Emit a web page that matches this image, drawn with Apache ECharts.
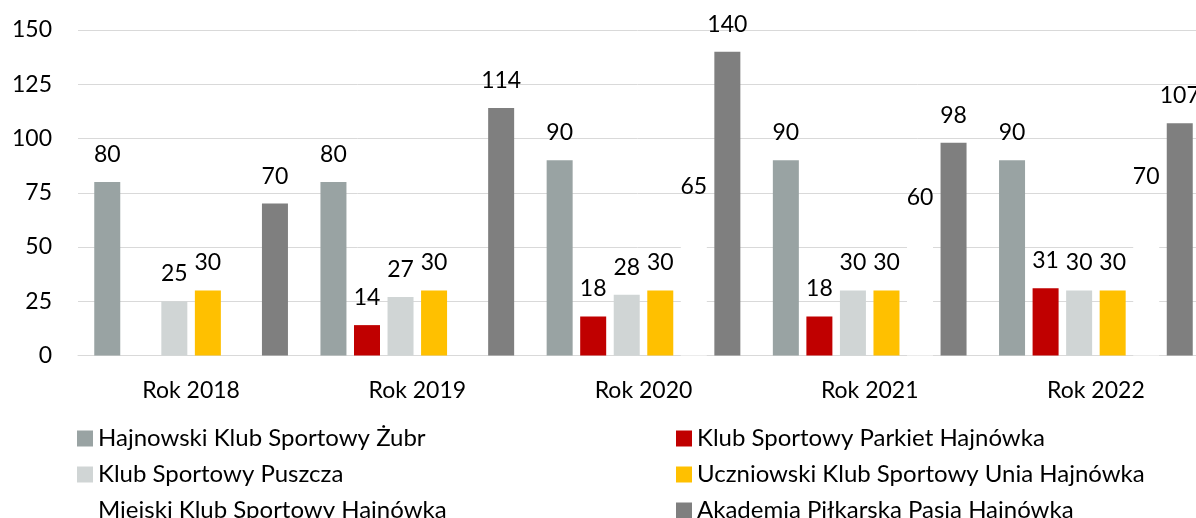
<!DOCTYPE html>
<html>
<head>
<meta charset="utf-8">
<script src="https://cdn.jsdelivr.net/npm/echarts@6/dist/echarts.min.js"></script>
<style>
  html, body { margin: 0; padding: 0; background: #fff; }
  #chart { width: 1196px; height: 518px; }
</style>
</head>
<body>
<div id="chart"></div>
<script>
// kategorie (lata)
const years = ['Rok 2018', 'Rok 2019', 'Rok 2020', 'Rok 2021', 'Rok 2022'];

// nazwy klubów
const clubNames = [
  'Hajnowski Klub Sportowy Żubr',
  'Klub Sportowy Parkiet Hajnówka',
  'Klub Sportowy Puszcza',
  'Uczniowski Klub Sportowy Unia Hajnówka',
  'Miejski Klub Sportowy Hajnówka',
  'Akademia Piłkarska Pasja Hajnówka'
];

// wartości dla każdego klubu
const zubr = [80, 80, 90, 90, 90];
const parkiet = [null, 14, 18, 18, 31];
const puszcza = [25, 27, 28, 30, 30];
const unia = [30, 30, 30, 30, 30];
const miejski = [null, null, 65, 60, 70];
const pasja = [70, 114, 140, 98, 107];

const yTicks = { min: 0, max: 150, interval: 25 };

const clubValues = [zubr, parkiet, puszcza, unia, miejski, pasja];
const clubColors = ['#99A3A3', '#C00000', '#D0D5D5', '#FFC000', '#FFFFFF', '#7F7F7F'];

const FONT = 'Lato';

const chart = echarts.init(document.getElementById('chart'));

const series = clubNames.map((name, i) => ({
  name: name,
  type: 'bar',
  data: clubValues[i],
  barWidth: 26,
  barGap: '29%',
  itemStyle: { color: clubColors[i] },
  label: {
    show: true,
    position: 'top',
    distance: 16,
    color: '#000',
    fontFamily: FONT,
    fontSize: 23
  }
}));

const legendText = { color: '#000', fontFamily: FONT, fontSize: 24, lineHeight: 23 };

// dwie kolumny legendy
const legendCol = (left, names) => ({
  orient: 'vertical', left: left, top: 426.5, height: 140, padding: 0,
  itemWidth: 16, itemHeight: 16, itemGap: 12, icon: 'rect',
  textStyle: legendText,
  data: names
});

chart.setOption({
  animation: false,
  // obszar wykresu wychodzi poza prawą krawędź (ucięty jak w oryginale)
  grid: {
    left: 78, width: 1131, top: 30, height: 325.5,
    containLabel: false, outerBoundsMode: 'none'
  },
  legend: [
    legendCol(77, [clubNames[0], clubNames[2], clubNames[4]]),
    legendCol(676, [clubNames[1], clubNames[3], clubNames[5]])
  ],
  xAxis: {
    type: 'category',
    data: years,
    axisLine: { lineStyle: { color: '#D9D9D9', width: 1 } },
    axisTick: { show: false },
    axisLabel: { color: '#000', fontFamily: FONT, fontSize: 23, margin: 24 }
  },
  yAxis: {
    type: 'value',
    min: yTicks.min,
    max: yTicks.max,
    interval: yTicks.interval,
    axisLine: { show: false },
    axisTick: { show: false },
    axisLabel: { color: '#000', fontFamily: FONT, fontSize: 23, margin: 26 },
    splitLine: { lineStyle: { color: '#D9D9D9', width: 1 } }
  },
  series: series
});
</script>
</body>
</html>
